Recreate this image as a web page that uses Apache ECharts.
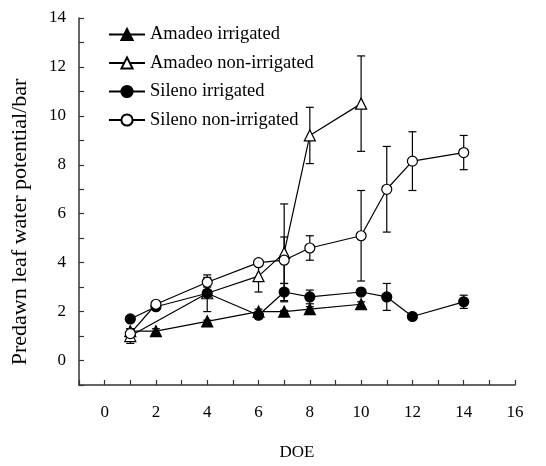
<!DOCTYPE html>
<html><head><meta charset="utf-8">
<script src="https://cdn.jsdelivr.net/npm/echarts@6/dist/echarts.min.js"></script>
<style>html,body{margin:0;padding:0;background:#fff}#c{width:546px;height:466px}</style>
</head><body><div id="c"></div>
<script>
// ---- data ----
const seriesNames = ['Amadeo irrigated','Amadeo non-irrigated','Sileno irrigated','Sileno non-irrigated'];
const daysAmadeoIrr = [1,2,4,6,7,8,10];
const amadeoIrr     = [1.2,1.2,1.6,2.0,2.0,2.1,2.3];
const amadeoIrrErr  = [0.1,0.1,0.05,0.1,0.05,0.1,0.1];
const daysAmadeoNon = [1,4,6,7,8,10];
const amadeoNon     = [1.0,2.75,3.45,4.4,9.2,10.5];
const amadeoNonErr  = [0.3,0.75,0.65,2.0,1.15,1.95];
const daysSilenoIrr = [1,2,4,6,7,8,10,11,12,14];
const silenoIrr     = [1.7,2.2,2.75,1.85,2.8,2.6,2.8,2.6,1.8,2.4];
const silenoIrrErr  = [0.1,0.1,0.1,0.1,0.35,0.28,0.1,0.55,0,0.27];
const daysSilenoNon = [1,2,4,6,7,8,10,11,12,14];
const silenoNon     = [1.1,2.3,3.2,4.0,4.1,4.6,5.1,7.0,8.15,8.5];
const silenoNonErr  = [0.1,0.12,0.2,0.1,0.95,0.5,1.85,1.75,1.2,0.7];
const xAxisTitle = 'DOE';
const yAxisTitle = 'Predawn leaf water potential/bar';

const FONT = 'Liberation Serif';
const pts = (xs, ys) => xs.map((x,i)=>[x, ys[i]]);
const errs = (xs, ys, es) => xs.map((x,i)=>[x, ys[i]-es[i], ys[i]+es[i]]).filter((d,i)=>es[i]>0);

const sets = [
  {name:seriesNames[0], xs:daysAmadeoIrr, ys:amadeoIrr, es:amadeoIrrErr, symbol:'triangle', fill:'#000', size:11},
  {name:seriesNames[1], xs:daysAmadeoNon, ys:amadeoNon, es:amadeoNonErr, symbol:'triangle', fill:'#fff', size:11},
  {name:seriesNames[2], xs:daysSilenoIrr, ys:silenoIrr, es:silenoIrrErr, symbol:'circle', fill:'#000', size:10},
  {name:seriesNames[3], xs:daysSilenoNon, ys:silenoNon, es:silenoNonErr, symbol:'circle', fill:'#fff', size:10}
];

const series = [];
sets.forEach(s => {
  series.push({
    type:'custom', name:s.name+' err', z:1, silent:true,
    data: errs(s.xs, s.ys, s.es),
    renderItem: (params, api) => {
      const lo = api.coord([api.value(0), api.value(1)]);
      const hi = api.coord([api.value(0), api.value(2)]);
      const w = 4;
      const st = {stroke:'#000', lineWidth:1.2};
      return {type:'group', children:[
        {type:'line', shape:{x1:lo[0],y1:lo[1],x2:hi[0],y2:hi[1]}, style:st},
        {type:'line', shape:{x1:lo[0]-w,y1:lo[1],x2:lo[0]+w,y2:lo[1]}, style:st},
        {type:'line', shape:{x1:hi[0]-w,y1:hi[1],x2:hi[0]+w,y2:hi[1]}, style:st}
      ]};
    }
  });
});
sets.forEach(s => {
  series.push({
    type:'line', name:s.name, z:3, data: pts(s.xs, s.ys),
    symbol:s.symbol, symbolSize:s.size, showAllSymbol:true,
    lineStyle:{color:'#000', width:1.2},
    itemStyle:{color:s.fill, borderColor:'#000', borderWidth:1.2},
    emphasis:{disabled:true}, animation:false
  });
});

const chart = echarts.init(document.getElementById('c'), null, {renderer:'canvas'});
chart.setOption({
  animation:false,
  backgroundColor:'#fff',
  grid:{left:79, right:31, top:18, bottom:73, containLabel:false},
  graphic:[{
    type:'text', x:20, y:222, rotation:Math.PI/2,
    style:{text:yAxisTitle, fontFamily:FONT, fontSize:22, fill:'#000',
      align:'center', verticalAlign:'middle'}
  }],
  legend:{
    data: seriesNames.map(n=>({name:n})),
    orient:'vertical', left:108, top:25, padding:0,
    itemWidth:36, itemHeight:14, itemGap:9.5,
    textStyle:{fontFamily:FONT, fontSize:18.5, color:'#000'},
    selectedMode:false
  },
  xAxis:{
    type:'value', min:-1, max:16, interval:1,
    name:xAxisTitle, nameLocation:'middle', nameGap:59,
    nameTextStyle:{fontFamily:FONT, fontSize:17, color:'#000'},
    axisLine:{show:true, onZero:false, lineStyle:{color:'#333', width:1.5}},
    axisTick:{show:true, inside:true, length:5, lineStyle:{color:'#333', width:1.2}},
    axisLabel:{fontFamily:FONT, fontSize:17, color:'#000', margin:19,
      formatter:v => (v % 2 === 0 && v >= 0) ? String(v) : ''},
    splitLine:{show:false}
  },
  yAxis:{
    type:'value', min:-1, max:14, interval:1,
    axisLine:{show:true, onZero:false, lineStyle:{color:'#333', width:1.5}},
    axisTick:{show:true, inside:true, length:5, lineStyle:{color:'#333', width:1.2}},
    axisLabel:{fontFamily:FONT, fontSize:17, color:'#000', margin:13,
      formatter:v => (v % 2 === 0 && v >= 0) ? String(v) : ''},
    splitLine:{show:false}
  },
  series: series
});
</script></body></html>
